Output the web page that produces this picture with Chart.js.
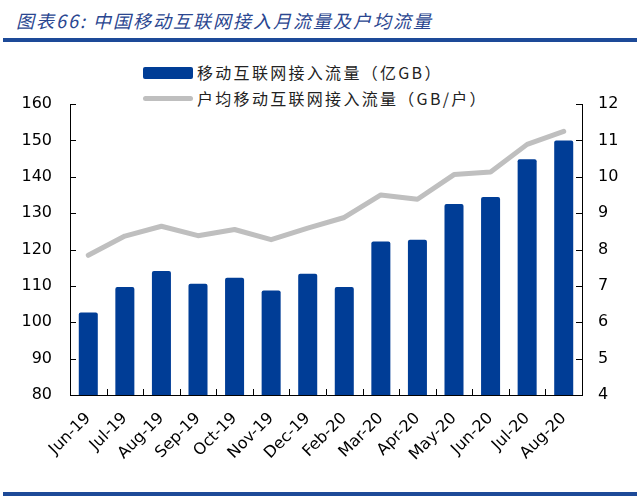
<!DOCTYPE html>
<html>
<head>
<meta charset="utf-8">
<script src="https://cdn.jsdelivr.net/npm/chart.js@4.4.1/dist/chart.umd.min.js"></script>
<style>
  body { margin: 0; background: #fff; }
  #wrap { position: relative; width: 640px; height: 498px; overflow: hidden; }
  #title {
    position: absolute; left: 16px; top: 7px;
    font-family: "Noto Sans CJK SC", sans-serif; font-style: italic;
    font-size: 18px; color: #2a4690; letter-spacing: 2px; white-space: nowrap;
  }
  .rule { position: absolute; left: 3px; width: 634px; height: 4px; background: #1d4a98; }
  #legend { position: absolute; left: 143px; top: 60px; font-family: "Noto Sans CJK SC", sans-serif; font-size: 16px; color: #222; letter-spacing: 2.3px; }
  .item { position: absolute; left: 0; white-space: nowrap; height: 24px; }
  .item .sw { position: absolute; left: 0; width: 50px; }
  .item span { position: absolute; left: 54px; top: 0; line-height: 24px; }
  canvas { position: absolute; left: 0; top: 0; }
</style>
</head>
<body>
<div id="wrap">
  <div id="title">图表66:&nbsp;中国移动互联网接入月流量及户均流量</div>
  <div class="rule" style="top:38px"></div>
  <div id="legend"></div>
  <canvas id="chart" width="640" height="498"></canvas>
  <div class="rule" style="top:492px"></div>
</div>
<script>
const months = ['Jun-19', 'Jul-19', 'Aug-19', 'Sep-19', 'Oct-19', 'Nov-19', 'Dec-19',
                'Feb-20', 'Mar-20', 'Apr-20', 'May-20', 'Jun-20', 'Jul-20', 'Aug-20'];
// 移动互联网接入流量（亿GB）
const totalTraffic = [102.7, 109.7, 114.1, 110.6, 112.2, 108.7, 113.3,
                      109.7, 122.2, 122.7, 132.5, 134.4, 144.8, 150.0];
// 户均移动互联网接入流量（GB/户）
const perUser = [7.84, 8.37, 8.64, 8.38, 8.55, 8.27, 8.59,
                 8.88, 9.50, 9.38, 10.06, 10.13, 10.89, 11.25];
const leftTicks = [80, 160, 10];
const rightTicks = [4, 12, 1];

const barColor = '#003d96';
const lineColor = '#bfbfbf';
const tickFont = { family: 'DejaVu Sans', size: 16 };

// short tick marks drawn inward from the axis lines
const innerTicks = {
    id: 'innerTicks',
    afterDraw(chart) {
        const c = chart.ctx;
        const area = chart.chartArea;
        const len = 6;
        c.save();
        c.strokeStyle = '#000';
        c.lineWidth = 1;
        c.beginPath();
        chart.scales.y.ticks.forEach((t, i) => {
            const py = Math.round(chart.scales.y.getPixelForTick(i)) + 0.5;
            c.moveTo(area.left, py);
            c.lineTo(area.left + len, py);
        });
        chart.scales.y1.ticks.forEach((t, i) => {
            const py = Math.round(chart.scales.y1.getPixelForTick(i)) + 0.5;
            c.moveTo(area.right, py);
            c.lineTo(area.right - len, py);
        });
        const xs = chart.scales.x;
        for (let i = 1; i < months.length; i++) {
            const px = Math.round((xs.getPixelForValue(i - 1) + xs.getPixelForValue(i)) / 2) + 0.5;
            c.moveTo(px, area.bottom);
            c.lineTo(px, area.bottom - len);
        }
        c.stroke();
        c.restore();
    }
};

const ctx = document.getElementById('chart').getContext('2d');
const chart = new Chart(ctx, {
    type: 'bar',
    data: {
        labels: months,
        datasets: [
            {
                type: 'line',
                label: '户均移动互联网接入流量（GB/户）',
                data: perUser,
                yAxisID: 'y1',
                borderColor: lineColor,
                backgroundColor: lineColor,
                borderWidth: 5,
                borderCapStyle: 'round',
                borderJoinStyle: 'round',
                pointRadius: 0,
                tension: 0,
                order: 0
            },
            {
                type: 'bar',
                label: '移动互联网接入流量（亿GB）',
                data: totalTraffic,
                yAxisID: 'y',
                backgroundColor: barColor,
                borderRadius: 2,
                barPercentage: 0.52,
                categoryPercentage: 1,
                order: 1
            }
        ]
    },
    options: {
        responsive: false,
        animation: false,
        layout: { padding: { top: 104, left: 0, right: 0, bottom: 0 } },
        plugins: {
            legend: { display: false },
            tooltip: { enabled: false }
        },
        scales: {
            x: {
                grid: { display: false, drawTicks: false },
                border: { display: true, color: '#000', width: 1 },
                ticks: { color: '#000', font: tickFont, minRotation: 45, maxRotation: 45, padding: 14 },
                afterFit: s => { s.height = 498 - 395; }
            },
            y: {
                position: 'left',
                min: leftTicks[0], max: leftTicks[1],
                grid: { display: false, drawTicks: false },
                border: { display: true, color: '#000', width: 1 },
                ticks: { stepSize: leftTicks[2], color: '#000', font: tickFont, padding: 18 },
                afterFit: s => { s.width = 70; }
            },
            y1: {
                position: 'right',
                min: rightTicks[0], max: rightTicks[1],
                grid: { display: false, drawTicks: false },
                border: { display: true, color: '#000', width: 1 },
                ticks: { stepSize: rightTicks[2], color: '#000', font: tickFont, padding: 16 },
                afterFit: s => { s.width = 640 - 582; }
            }
        }
    },
    plugins: [innerTicks]
});

// HTML legend built from the chart's datasets: bar first, then line
const legend = document.getElementById('legend');
[1, 0].forEach((di, row) => {
    const ds = chart.data.datasets[di];
    const item = document.createElement('div');
    item.className = 'item';
    item.style.top = (row * 26) + 'px';
    const sw = document.createElement('div');
    sw.className = 'sw';
    if (ds.type === 'bar') {
        sw.style.top = '7px'; sw.style.height = '12px';
        sw.style.borderRadius = '2px';
    } else {
        sw.style.top = '10px'; sw.style.height = '5px';
        sw.style.borderRadius = '3px';
    }
    sw.style.background = ds.backgroundColor;
    const txt = document.createElement('span');
    txt.textContent = ds.label;
    item.appendChild(sw);
    item.appendChild(txt);
    legend.appendChild(item);
});
</script>
</body>
</html>
